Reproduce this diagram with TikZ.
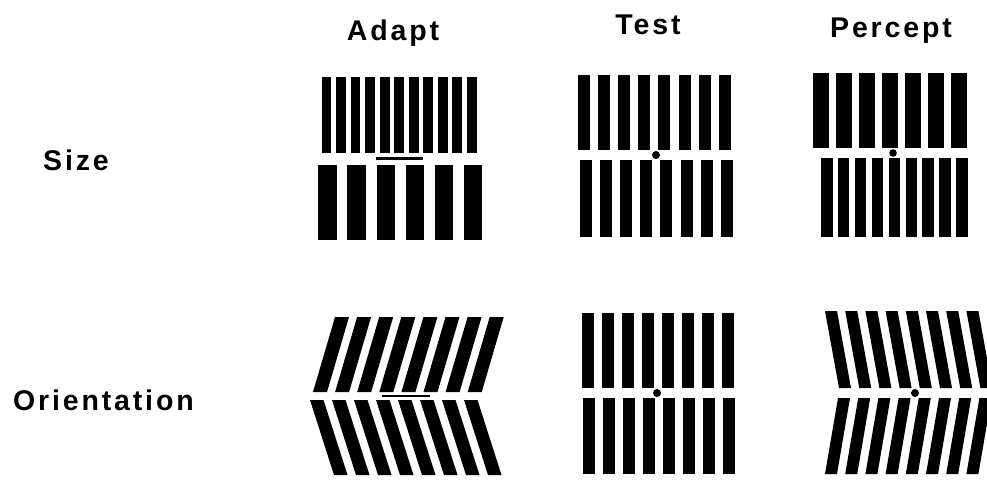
\documentclass[tikz,border=0pt]{standalone}
\usepackage{fontspec}
\setmainfont{Liberation Sans}
\newfontfamily\labelfont[LetterSpace=10]{Liberation Sans}
\begin{document}
\begin{tikzpicture}[x=1pt,y=-1pt,
  bar/.style={fill=black},
  fixdot/.style={fill=black},
  fixline/.style={draw=black,line width=3pt},
  heading/.style={font=\labelfont\bfseries\fontsize{28.5}{32}\selectfont,inner sep=0pt},
]
\fill[white] (0,0) rectangle (987,479);
\useasboundingbox (0,0) rectangle (987,479);
\clip (0,0) rectangle (987,479);

% column and row headings
\node[heading,anchor=base] (adapt)   at (393,40) {Adapt};
\node[heading,anchor=base] (test)    at (648,34) {Test};
\node[heading,anchor=base] (percept) at (891,37) {Percept};
\node[heading,anchor=base west] (size)   at (43,170)  {Size};
\node[heading,anchor=base west] (orient) at (13,410)  {Orientation};

% ---- Size row ----
% adapt: fine upper grating, coarse lower grating
\foreach \i in {0,...,10}
  \fill[bar] ({321.7+14.53*\i},77) rectangle ++(9.7,76);
\foreach \i in {0,...,5}
  \fill[bar] ({318.3+29.1*\i},165) rectangle ++(18.2,75);
\draw[fixline] (376,158.5) -- (423,158.5);

% test: equal gratings
\foreach \i in {0,...,7}
  \fill[bar] ({578+20.1*\i},75) rectangle ++(12,75);
\foreach \i in {0,...,7}
  \fill[bar] ({580+20.1*\i},160) rectangle ++(12,77);
\fill[fixdot] (656,155) circle (4);

% percept: coarser above, finer below
\foreach \i in {0,...,6}
  \fill[bar] ({813+23*\i},73) rectangle ++(16,75);
\foreach \i in {0,...,8}
  \fill[bar] ({821+16.9*\i},158) rectangle ++(11.5,79);
\fill[fixdot] (893,153) circle (3.8);

% ---- Orientation row ----
% adapt: upper bars tilted right, lower bars tilted left
\foreach \i in {0,...,7}
  \fill[bar] ({313+22.1*\i},392) -- ++(14,0) -- ++(22,-75) -- ++(-14,0) -- cycle;
\foreach \i in {0,...,7}
  \fill[bar] ({310+22*\i},400) -- ++(13.5,0) -- ++(24,75) -- ++(-13.5,0) -- cycle;
\draw[fixline,line width=2.5pt] (382,396) -- (430,396);

% test: vertical gratings
\foreach \i in {0,...,7}
  \fill[bar] ({582+20*\i},313) rectangle ++(12,75);
\foreach \i in {0,...,7}
  \fill[bar] ({583+20*\i},398) rectangle ++(12,76);
\fill[fixdot] (657,393) circle (4);

% percept: tilt aftereffect, opposite tilts
\foreach \i in {0,...,7}
  \fill[bar] ({825+20.2*\i},311) -- ++(12,0) -- ++(14,77) -- ++(-12,0) -- cycle;
\foreach \i in {0,...,7}
  \fill[bar] ({825+20.2*\i},474) -- ++(12,0) -- ++(13,-76) -- ++(-12,0) -- cycle;
\fill[fixdot] (915,393) circle (4);
\end{tikzpicture}
\end{document}
